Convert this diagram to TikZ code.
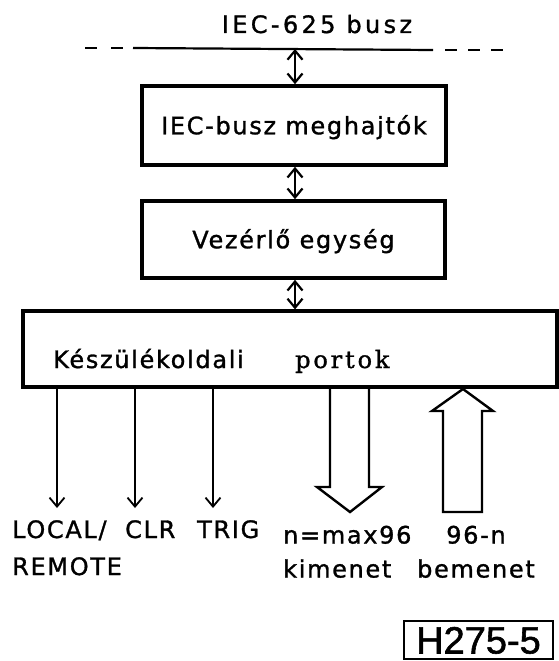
\documentclass[tikz,border=0pt]{standalone}
\usepackage{fontspec}
\newfontfamily\stenc{DejaVu Sans}[LetterSpace=7, FakeBold=1.2]
\newfontfamily\stencw{DejaVu Sans}[LetterSpace=14, FakeBold=1.2]
\newfontfamily\portf{DejaVu Serif}[LetterSpace=12, FakeBold=1.2]
\newfontfamily\signf{Liberation Sans}[FakeBold=1.5]
\usetikzlibrary{arrows.meta,positioning,calc}

\begin{document}
\begin{tikzpicture}[x=1pt, y=-1pt,
  blk/.style={draw=black, line width=3.6pt, rectangle, inner sep=0pt,
    font=\fontsize{24}{29}\stenc, text height=17.5pt, text depth=0pt},
  txt/.style={font=\fontsize{24}{37}\stenc, inner sep=0pt, align=left},
  sign/.style={draw=black, line width=2.6pt, rectangle, inner sep=0pt,
    font=\fontsize{38}{40}\signf, text height=27pt, text depth=0pt},
  bus/.style={line width=2.2pt},
  ar/.style={{Straight Barb[length=9pt,width=15pt]}-{Straight Barb[length=9pt,width=15pt]}, line width=2.2pt},
  dn/.style={-{Straight Barb[length=9pt,width=15pt]}, line width=1.8pt},
  fat/.style={draw=black, line width=2.4pt, line join=miter},
]
\useasboundingbox (0,0) rectangle (559,661);

%==== Busz ====
\coordinate (busA) at (85,48);
\coordinate (busB) at (133,48);
\coordinate (busC) at (433,50);
\coordinate (busE) at (445,50);
\coordinate (busD) at (503,50);
\coordinate (busT) at (295,49);
\draw[bus, dash pattern=on 12pt off 14pt] (busA) -- (busB);
\draw[bus] (busB) -- (busC);
\draw[bus, dash pattern=on 12pt off 11pt] (busE) -- (busD);
\node[txt, anchor=base, font=\fontsize{24}{29}\stencw] (buslbl) at (317,33) {IEC-625 busz};

%==== Egysegek ====
\node[blk, minimum width=304pt, minimum height=79pt] (drv) at (294,125.5) {IEC-busz meghajtók};
\node[blk, minimum width=303pt, minimum height=77pt] (vez) at (293.5,239.5) {Vezérlő egység};
\node[blk, line width=3.2pt, minimum width=534pt, minimum height=76pt] (port) at (290,349) {};
\node[txt, anchor=base west] (kesz) at (53,368) {Készülékoldali};
\node[txt, anchor=base west, font=\fontsize{24}{29}\portf] (portok) at (295,368) {portok};

\draw[ar] (busT) -- (busT |- drv.north);
\draw[ar] (drv.south -| busT) -- (vez.north -| busT);
\draw[ar] (vez.south -| busT) -- (port.north -| busT);

%==== Kimenetek, bemenetek ====
\coordinate (tLoc)  at (57,508);
\coordinate (tClr)  at (135,508);
\coordinate (tTrig) at (213,508);
\draw[dn] (tLoc |- port.south)  -- (tLoc);
\draw[dn] (tClr |- port.south)  -- (tClr);
\draw[dn] (tTrig |- port.south) -- (tTrig);

\coordinate (outtip) at (350,512);
\coordinate (intip)  at (463,389);
\draw[fat] (outtip) ++(-20,-124) -- ++(0,99) -- ++(-13,0) -- (outtip) -- ++(32,-25) -- ++(-13,0) -- ++(0,-99);
\draw[fat] (intip) -- ++(30,22) -- ++(-11,0) -- ++(0,101) -- ++(-39,0) -- ++(0,-101) -- ++(-11,0) -- cycle;

\node[txt, anchor=north west] (local) at (12,520) {LOCAL/\\REMOTE};
\node[txt, anchor=base west] (clr)  at (125,538) {CLR};
\node[txt, anchor=base west] (trig) at (197,538) {TRIG};
\node[txt, anchor=north west, font=\fontsize{24}{34}\stenc] (kim) at (283,525.5) {n=max96\\kimenet};
\node[txt, anchor=north, align=center, font=\fontsize{24}{34}\stenc] (bem) at (476,525.5) {96-n\\bemenet};

\node[sign, minimum width=149pt, minimum height=38pt] (jel) at (478.5,640) {H275-5};

\end{tikzpicture}
\end{document}
